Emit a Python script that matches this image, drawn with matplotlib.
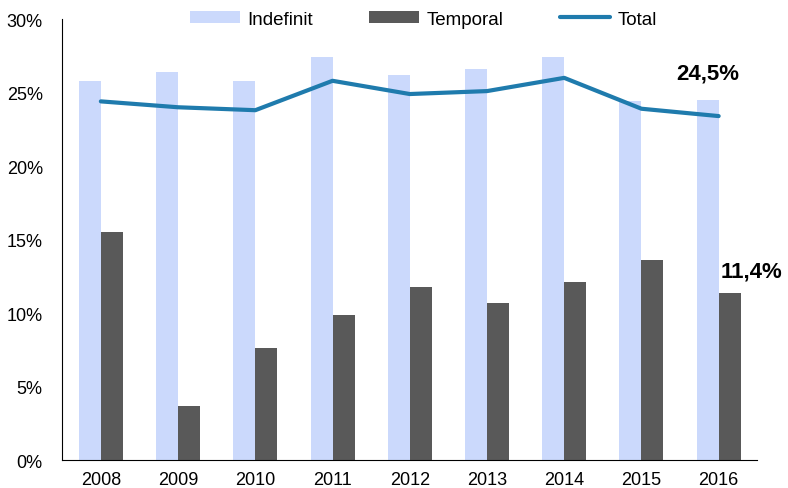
import matplotlib.pyplot as plt
import numpy as np

plt.rcParams['font.family'] = ['Liberation Sans', 'DejaVu Sans']

years = ['2008', '2009', '2010', '2011', '2012', '2013', '2014', '2015', '2016']
indefinit = [25.8, 26.4, 25.8, 27.4, 26.2, 26.6, 27.4, 24.4, 24.5]
temporal = [15.5, 3.7, 7.6, 9.9, 11.8, 10.7, 12.1, 13.6, 11.4]
total = [24.4, 24.0, 23.8, 25.8, 24.9, 25.1, 26.0, 23.9, 23.4]

fig = plt.figure(figsize=(7.88, 4.89), dpi=100)
ax = fig.add_axes([0.079, 0.057, 0.882, 0.902])

x = np.arange(len(years))
w = 0.285
b1 = ax.bar(x - w/2, indefinit, w, color='#cbd9fc', label='Indefinit')
b2 = ax.bar(x + w/2, temporal, w, color='#595959', label='Temporal')
l1, = ax.plot(x, total, color='#1f7bad', lw=3, label='Total', solid_capstyle='round')

ax.text(7.86, 26.3, '24,5%', ha='center', va='center', fontsize=16, fontweight='bold')
ax.text(8.42, 12.85, '11,4%', ha='center', va='center', fontsize=16, fontweight='bold')

ax.set_xlim(-0.5, 8.5)
ax.set_ylim(0, 30)
ax.set_xticks(x)
ax.set_xticklabels(years)
ax.set_yticks(range(0, 31, 5))
ax.set_yticklabels([f'{v}%' for v in range(0, 31, 5)])
ax.tick_params(length=0, labelsize=13, pad=8)
ax.tick_params(axis='y', pad=14)
for s in ['top', 'right']:
    ax.spines[s].set_visible(False)

fig.legend([b1, b2, l1], ['Indefinit', 'Temporal', 'Total'], loc='center',
           bbox_to_anchor=(0.537, 0.959), ncol=3, frameon=False,
           fontsize=13.5, handlelength=2.67, handleheight=0.55,
           columnspacing=3.0, handletextpad=0.4, borderaxespad=0, borderpad=0)

fig.savefig('out.png')
